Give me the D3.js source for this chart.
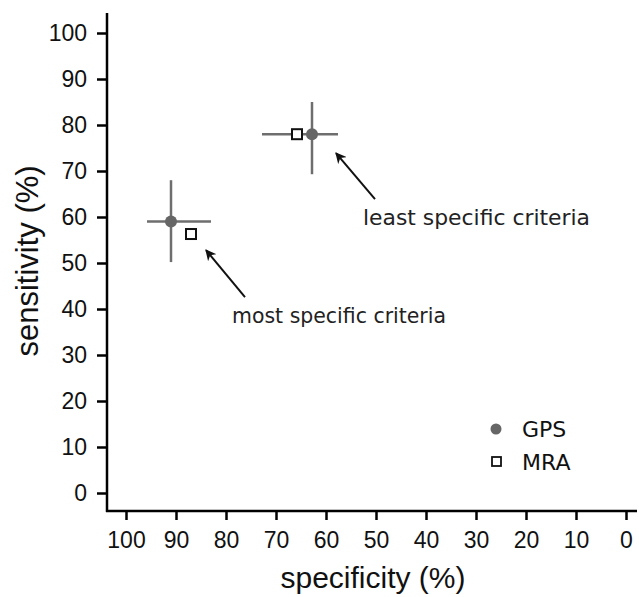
<!DOCTYPE html>
<meta charset="utf-8">
<style>
body { margin: 0; background: #fff; }
</style>
<svg width="639" height="597"></svg>
<script src="https://d3js.org/d3.v7.min.js"></script>
<script>

// data
var xTicks = [100, 90, 80, 70, 60, 50, 40, 30, 20, 10, 0];
var yTicks = [0, 10, 20, 30, 40, 50, 60, 70, 80, 90, 100];

// GPS: point estimate with confidence ranges
var gps = [
  {spec: 91, sens: 59, specLo: 83, specHi: 95.8, sensLo: 50.2, sensHi: 68},
  {spec: 62.8, sens: 78, specLo: 57.6, specHi: 72.8, sensLo: 69.3, sensHi: 85}
];
// MRA: point only
var mra = [
  {spec: 87, sens: 56.3},
  {spec: 65.8, sens: 78}
];
// annotations (arrow from tail to head, label start)
var notes = [
  {text: "most specific criteria", x: 78.8, y: 37, tail: [76.2, 42.6], head: [84, 52.8], len: 214},
  {text: "least specific criteria", x: 52.6, y: 58.3, tail: [50.2, 63.9], head: [58, 73.9], len: 227}
];

var sans = "'Liberation Sans', Arial, Helvetica, sans-serif";
var lucida = "'DejaVu Sans', 'Lucida Grande', sans-serif";

var svg = d3.select("svg");

var x = d3.scaleLinear().domain([100, 0]).range([126, 626]);
var y = d3.scaleLinear().domain([0, 100]).range([493, 33]);

svg.append("defs").append("marker")
    .attr("id", "arrow")
    .attr("viewBox", "0 0 10 10")
    .attr("refX", 9).attr("refY", 5)
    .attr("markerWidth", 5.5).attr("markerHeight", 5.5)
    .attr("markerUnits", "strokeWidth")
    .attr("orient", "auto")
  .append("path")
    .attr("d", "M0,0 L10,5 L0,10 L3,5 z")
    .attr("fill", "#111");

// axes
var yAxis = svg.append("g")
    .attr("transform", "translate(107,0)")
    .call(d3.axisLeft(y).tickValues(yTicks).tickSize(10).tickPadding(10));
yAxis.select(".domain").remove();

var xAxis = svg.append("g")
    .attr("transform", "translate(0,511)")
    .call(d3.axisBottom(x).tickValues(xTicks).tickSize(9).tickPadding(12));
xAxis.select(".domain").remove();

svg.selectAll(".tick line").attr("stroke", "#000").attr("stroke-width", 2.5);
svg.selectAll(".tick text")
    .attr("font-family", null).attr("font-size", null)
    .style("font-family", sans).style("font-size", "23px").style("fill", "#111");

svg.append("line").attr("x1", 107).attr("x2", 107).attr("y1", 13).attr("y2", 512)
    .attr("stroke", "#000").attr("stroke-width", 2.5);
svg.append("line").attr("x1", 106).attr("x2", 637).attr("y1", 511).attr("y2", 511)
    .attr("stroke", "#000").attr("stroke-width", 2.5);

svg.append("text")
    .attr("x", 373).attr("y", 588)
    .attr("text-anchor", "middle")
    .style("font-family", sans).style("font-size", "30px").style("fill", "#111")
    .text("specificity (%)");

svg.append("text")
    .attr("transform", "translate(38,261) rotate(-90)")
    .attr("text-anchor", "middle")
    .style("font-family", sans).style("font-size", "31px").style("fill", "#111")
    .text("sensitivity (%)");

// error bars for GPS
var bars = svg.append("g").attr("stroke", "#6e6e6e").attr("stroke-width", 2.5);
bars.selectAll("line.h").data(gps).enter().append("line").attr("class", "h")
    .attr("x1", function(d) { return x(d.specHi); })
    .attr("x2", function(d) { return x(d.specLo); })
    .attr("y1", function(d) { return y(d.sens); })
    .attr("y2", function(d) { return y(d.sens); });
bars.selectAll("line.v").data(gps).enter().append("line").attr("class", "v")
    .attr("x1", function(d) { return x(d.spec); })
    .attr("x2", function(d) { return x(d.spec); })
    .attr("y1", function(d) { return y(d.sensHi); })
    .attr("y2", function(d) { return y(d.sensLo); });

svg.selectAll("rect.mra").data(mra).enter().append("rect").attr("class", "mra")
    .attr("x", function(d) { return x(d.spec) - 5; })
    .attr("y", function(d) { return y(d.sens) - 5; })
    .attr("width", 10).attr("height", 10)
    .attr("fill", "#fff").attr("stroke", "#111").attr("stroke-width", 2);

svg.selectAll("circle.gps").data(gps).enter().append("circle").attr("class", "gps")
    .attr("cx", function(d) { return x(d.spec); })
    .attr("cy", function(d) { return y(d.sens); })
    .attr("r", 6)
    .attr("fill", "#666");

// annotations
svg.selectAll("line.arrow").data(notes).enter().append("line").attr("class", "arrow")
    .attr("x1", function(d) { return x(d.tail[0]); })
    .attr("y1", function(d) { return y(d.tail[1]); })
    .attr("x2", function(d) { return x(d.head[0]); })
    .attr("y2", function(d) { return y(d.head[1]); })
    .attr("stroke", "#111").attr("stroke-width", 2)
    .attr("marker-end", "url(#arrow)");

svg.selectAll("text.note").data(notes).enter().append("text").attr("class", "note")
    .attr("x", function(d) { return x(d.x); })
    .attr("y", function(d) { return y(d.y); })
    .attr("textLength", function(d) { return d.len; })
    .attr("lengthAdjust", "spacingAndGlyphs")
    .style("font-family", lucida).style("font-size", "22px").style("fill", "#222")
    .text(function(d) { return d.text; });

// legend
var legend = svg.append("g");
legend.append("circle").attr("cx", 496).attr("cy", 429).attr("r", 5.5).attr("fill", "#666");
legend.append("rect").attr("x", 492).attr("y", 457).attr("width", 9).attr("height", 9)
    .attr("fill", "#fff").attr("stroke", "#111").attr("stroke-width", 1.8);
legend.selectAll("text").data(["GPS", "MRA"]).enter().append("text")
    .attr("x", 522)
    .attr("y", function(d, i) { return 437 + i * 33; })
    .style("font-family", lucida).style("font-size", "22px").style("fill", "#111")
    .text(function(d) { return d; });

</script>
